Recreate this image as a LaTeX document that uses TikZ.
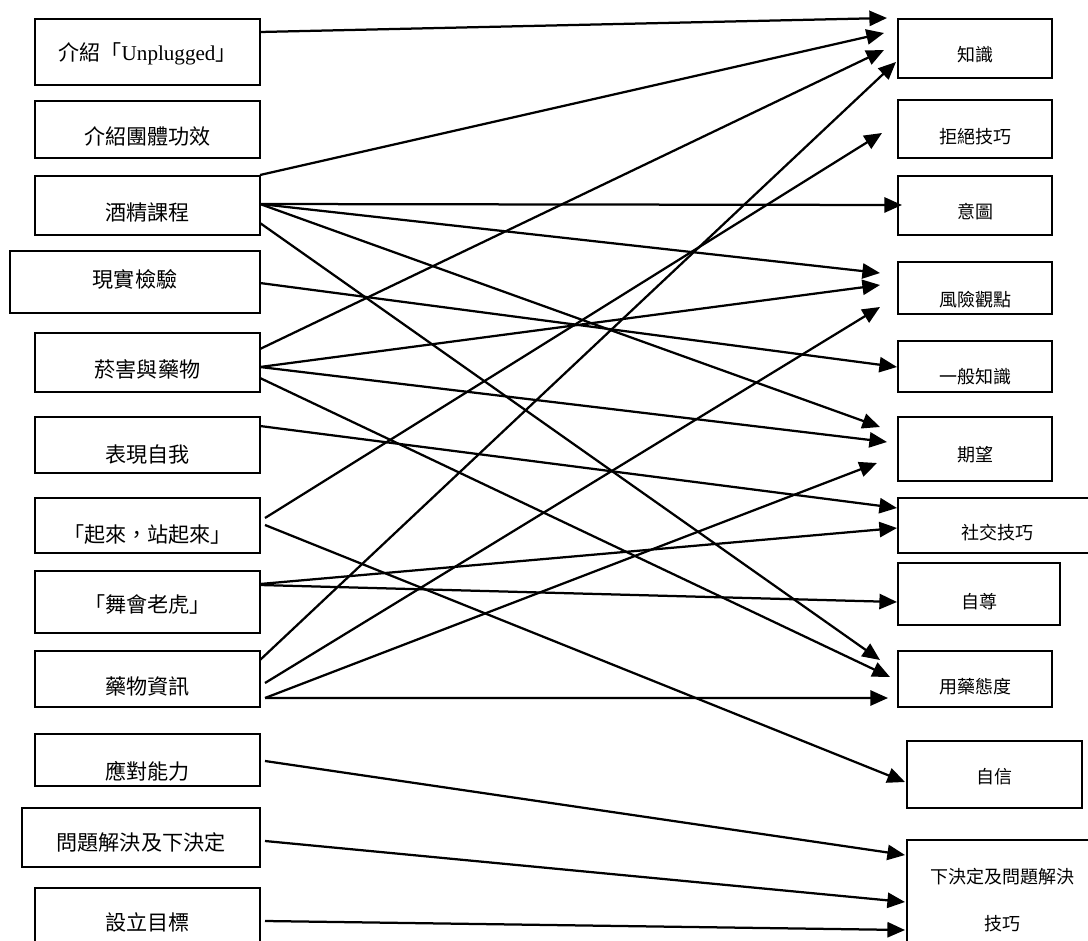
\documentclass[tikz,border=0pt]{standalone}
\usepackage{fontspec}
\setmainfont{Noto Sans CJK TC}
\newfontfamily\latinserif{Liberation Serif}
\usepackage{tikz}
\usetikzlibrary{arrows.meta}

\tikzset{
    lbox/.style={draw, line width=1.2pt, inner sep=0pt, outer sep=0pt, anchor=north west, font=\fontsize{15}{18}\selectfont},
    rbox/.style={draw, line width=1.2pt, inner sep=0pt, outer sep=0pt, anchor=north west, font=\fontsize{12.8}{15}\selectfont},
    link/.style={line width=1.6pt, -{Triangle[length=4.4mm,width=3.8mm]}}
}

\begin{document}
\begin{tikzpicture}[x=0.025cm, y=-0.025cm]
    \useasboundingbox (0,0) rectangle (1088,941);

    % Activities on the left
    \foreach \n/\xa/\ya/\xb/\yb/\yc/\t in {b1/35/19/260/85/53/{介紹「{\latinserif Unplugged}」}, b2/35/101/260/158/137/介紹團體功效, b3/35/176/260/235/213/酒精課程, b4/10/251/260/313/280/現實檢驗, b5/35/333/260/392/370/菸害與藥物, b6/35/417/260/473/455/表現自我, b7/35/498/260/553/535/「起來，站起來」, b8/35/571/260/633/605/「舞會老虎」, b9/35/651/260/707/687/藥物資訊, b10/35/734/260/786/772/應對能力, b11/22/808/260/867/843/問題解決及下決定, b12/35/888/260/960/923/設立目標} {
      \pgfmathsetmacro\ww{(\xb-\xa)*0.025}
      \pgfmathsetmacro\dd{(\yb-\yc-0.38*21)*0.025}
      \pgfmathsetmacro\hh{(\yb-\ya)*0.025-\dd}
      \node[lbox, minimum width=\ww cm, text height=\hh cm, text depth=\dd cm] (\n) at (\xa,\ya) {\t};
    }

    % Outcomes on the right
    \foreach \n/\xa/\ya/\xb/\yb/\yc/\t in {r1/898/19/1052/78/55/知識, r2/898/100/1052/158/137/拒絕技巧, r3/898/176/1052/235/212/意圖, r4/898/262/1052/314/300/風險觀點, r5/898/341/1052/392/377/一般知識, r6/898/417/1052/481/455/期望, r7/898/498/1096/553/533/社交技巧, r8/898/563/1060/625/602/自尊, r9/898/651/1052/707/687/用藥態度, r10/907/741/1082/808/777/自信} {
      \pgfmathsetmacro\ww{(\xb-\xa)*0.025}
      \pgfmathsetmacro\dd{(\yb-\yc-0.38*18)*0.025}
      \pgfmathsetmacro\hh{(\yb-\ya)*0.025-\dd}
      \node[rbox, minimum width=\ww cm, text height=\hh cm, text depth=\dd cm] (\n) at (\xa,\ya) {\t};
    }
    \node[rbox, minimum width=4.75cm, minimum height=3cm, align=center, font=\fontsize{12.8}{33.4}\selectfont] (r11) at (907,840) {下決定及問題解決\\技巧};

    % Links: start/end offsets from the box sides
    \foreach \a/\sa/\b/\sb in {b1/{(0,-20)}/r1/{(-11,-30.5)}, b3/{(0,-30.5)}/r1/{(-14,-15.5)}, b3/{(0,-1.5)}/r3/{(4,-0.5)}, b3/{(0,-1.5)}/r4/{(-18,-15)}, b3/{(0,-1.5)}/r6/{(-18,-22)}, b3/{(0,17.5)}/r9/{(-18,-19)}, b4/{(0,1)}/r5/{(-1,0.5)}, b5/{(0,-13.5)}/r1/{(-14,1.5)}, b5/{(0,4.5)}/r4/{(-18,-3)}, b5/{(0,4.5)}/r6/{(-11,-7)}, b5/{(0,15.5)}/r9/{(-8,-2)}, b6/{(0,-19)}/r7/{(-1,-17.5)}, b7/{(5,-7.5)}/r2/{(-16,4)}, b7/{(5,-0.5)}/r10/{(-2,7.5)}, b8/{(0,-18)}/r7/{(-1,2.5)}, b8/{(0,-17)}/r8/{(-1,8)}, b9/{(0,-19)}/r1/{(-2,13.5)}, b9/{(5,4)}/r4/{(-18,19)}, b9/{(5,19)}/r6/{(-21,14)}, b9/{(5,19)}/r9/{(-10,19)}, b10/{(5,1)}/r11/{(-2,-45)}, b11/{(5,3.5)}/r11/{(-2,2)}, b12/{(5,-3)}/r11/{(-2,30)}} {
      \draw[link] ([shift=\sa]\a.east) -- ([shift=\sb]\b.west);
    }
\end{tikzpicture}
\end{document}
